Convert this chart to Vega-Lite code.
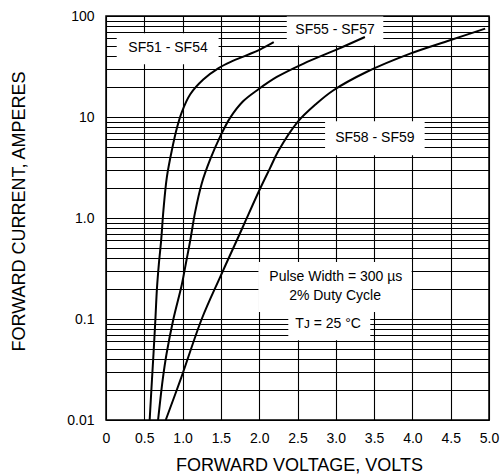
{
  "$schema": "https://vega.github.io/schema/vega-lite/v6.json",
  "autosize": {"type": "none"},
  "width": 383,
  "height": 404,
  "padding": {"left": 106, "top": 16, "right": 12, "bottom": 56},
  "background": "white",
  "config": {
    "font": "Liberation Sans",
    "view": {"stroke": "black", "strokeWidth": 1.5},
    "axis": {
      "grid": true,
      "gridColor": "black",
      "gridOpacity": 1,
      "gridWidth": 1.1,
      "ticks": false,
      "domain": false,
      "labelFontSize": 14,
      "labelColor": "black",
      "labelFont": "Liberation Sans",
      "titleFont": "Liberation Sans",
      "titleFontSize": 18,
      "titleFontWeight": "normal",
      "titleColor": "black",
      "labelOverlap": false,
      "labelBound": false,
      "labelFlush": false
    },
    "axisX": {
      "title": "FORWARD VOLTAGE, VOLTS",
      "values": [0, 0.5, 1, 1.5, 2, 2.5, 3, 3.5, 4, 4.5, 5],
      "labelExpr": "datum.value == 0 ? '0' : format(datum.value, '.1f')",
      "labelPadding": 11,
      "titleX": 193,
      "titleY": 50,
      "titleBaseline": "alphabetic",
      "titleAlign": "center"
    },
    "axisY": {
      "values": [0.01, 0.02, 0.03, 0.04, 0.05, 0.06, 0.07, 0.08, 0.09, 0.1, 0.2, 0.3, 0.4, 0.5, 0.6, 0.7, 0.8, 0.9, 1, 2, 3, 4, 5, 6, 7, 8, 9, 10, 20, 30, 40, 50, 60, 70, 80, 90, 100],
      "labelExpr": "datum.value == 100 ? '100' : datum.value == 10 ? '10' : datum.value == 1 ? '1.0' : datum.value == 0.1 ? '0.1' : datum.value == 0.01 ? '0.01' : ''",
      "labelPadding": 12,
      "titleX": -87,
      "titleY": 195,
      "titleAngle": -90,
      "titleBaseline": "middle",
      "titleAlign": "center"
    }
  },
  "datasets": {
    "curves": [
      {"series": "SF51 - SF54", "V": 0.57, "I": 0.01},
      {"series": "SF51 - SF54", "V": 0.6, "I": 0.025},
      {"series": "SF51 - SF54", "V": 0.62, "I": 0.045},
      {"series": "SF51 - SF54", "V": 0.645, "I": 0.1},
      {"series": "SF51 - SF54", "V": 0.665, "I": 0.2},
      {"series": "SF51 - SF54", "V": 0.69, "I": 0.35},
      {"series": "SF51 - SF54", "V": 0.72, "I": 0.6},
      {"series": "SF51 - SF54", "V": 0.75, "I": 1.2},
      {"series": "SF51 - SF54", "V": 0.795, "I": 2.55},
      {"series": "SF51 - SF54", "V": 0.86, "I": 4.7},
      {"series": "SF51 - SF54", "V": 0.93, "I": 8.0},
      {"series": "SF51 - SF54", "V": 0.99, "I": 11.2},
      {"series": "SF51 - SF54", "V": 1.1, "I": 16.8},
      {"series": "SF51 - SF54", "V": 1.27, "I": 23.5},
      {"series": "SF51 - SF54", "V": 1.47, "I": 30.5},
      {"series": "SF51 - SF54", "V": 1.64, "I": 35.5},
      {"series": "SF51 - SF54", "V": 1.84, "I": 41},
      {"series": "SF51 - SF54", "V": 2.01, "I": 46.5},
      {"series": "SF51 - SF54", "V": 2.19, "I": 55},
      {"series": "SF55 - SF57", "V": 0.68, "I": 0.01},
      {"series": "SF55 - SF57", "V": 0.74, "I": 0.025},
      {"series": "SF55 - SF57", "V": 0.79, "I": 0.045},
      {"series": "SF55 - SF57", "V": 0.88, "I": 0.1},
      {"series": "SF55 - SF57", "V": 0.99, "I": 0.22},
      {"series": "SF55 - SF57", "V": 1.05, "I": 0.38},
      {"series": "SF55 - SF57", "V": 1.1, "I": 0.6},
      {"series": "SF55 - SF57", "V": 1.164, "I": 1.15},
      {"series": "SF55 - SF57", "V": 1.25, "I": 2.2},
      {"series": "SF55 - SF57", "V": 1.36, "I": 3.8},
      {"series": "SF55 - SF57", "V": 1.49, "I": 6.4},
      {"series": "SF55 - SF57", "V": 1.62, "I": 9.8},
      {"series": "SF55 - SF57", "V": 1.79, "I": 14.3},
      {"series": "SF55 - SF57", "V": 1.99, "I": 18.8},
      {"series": "SF55 - SF57", "V": 2.23, "I": 24.9},
      {"series": "SF55 - SF57", "V": 2.58, "I": 33.8},
      {"series": "SF55 - SF57", "V": 3.01, "I": 46.5},
      {"series": "SF55 - SF57", "V": 3.38, "I": 62},
      {"series": "SF58 - SF59", "V": 0.78, "I": 0.01},
      {"series": "SF58 - SF59", "V": 0.98, "I": 0.026},
      {"series": "SF58 - SF59", "V": 1.25, "I": 0.1},
      {"series": "SF58 - SF59", "V": 1.49, "I": 0.26},
      {"series": "SF58 - SF59", "V": 1.72, "I": 0.63},
      {"series": "SF58 - SF59", "V": 1.82, "I": 0.93},
      {"series": "SF58 - SF59", "V": 1.99, "I": 1.8},
      {"series": "SF58 - SF59", "V": 2.14, "I": 3.1},
      {"series": "SF58 - SF59", "V": 2.25, "I": 4.6},
      {"series": "SF58 - SF59", "V": 2.5, "I": 8.9},
      {"series": "SF58 - SF59", "V": 2.75, "I": 13.6},
      {"series": "SF58 - SF59", "V": 2.97, "I": 18.4},
      {"series": "SF58 - SF59", "V": 3.4, "I": 27.9},
      {"series": "SF58 - SF59", "V": 3.97, "I": 42.4},
      {"series": "SF58 - SF59", "V": 4.49, "I": 57.5},
      {"series": "SF58 - SF59", "V": 4.95, "I": 75}
    ],
    "boxes": [
      {"x1": 0.14, "x2": 1.47, "y1": 33.3, "y2": 67.4},
      {"x1": 2.36, "x2": 3.62, "y1": 51, "y2": 99},
      {"x1": 2.86, "x2": 4.16, "y1": 4.18, "y2": 9.06},
      {"x1": 1.99, "x2": 3.99, "y1": 0.117, "y2": 0.366},
      {"x1": 2.38, "x2": 3.45, "y1": 0.0615, "y2": 0.117}
    ],
    "labels": [
      {"tx": 0.81, "ty": 47.9, "label": "SF51 - SF54"},
      {"tx": 2.99, "ty": 72, "label": "SF55 - SF57"},
      {"tx": 3.51, "ty": 6.15, "label": "SF58 - SF59"},
      {"tx": 3.0, "ty": 0.261, "label": "Pulse Width = 300 µs"},
      {"tx": 2.99, "ty": 0.168, "label": "2% Duty Cycle"},
      {"tx": 2.9, "ty": 0.09, "label": "Tᴊ = 25 °C"}
    ]
  },
  "layer": [
    {
      "data": {"name": "boxes"},
      "mark": {"type": "rect", "color": "white", "opacity": 1},
      "encoding": {
        "x": {
          "field": "x1", "type": "quantitative",
          "scale": {"domain": [0, 5], "nice": false, "zero": false},
          "axis": {"title": "FORWARD VOLTAGE, VOLTS"}
        },
        "x2": {"field": "x2"},
        "y": {
          "field": "y1", "type": "quantitative",
          "scale": {"type": "log", "domain": [0.01, 100], "nice": false},
          "axis": {"title": "FORWARD CURRENT, AMPERES"}
        },
        "y2": {"field": "y2"}
      }
    },
    {
      "data": {"name": "curves"},
      "mark": {"type": "line", "color": "black", "strokeWidth": 2, "interpolate": "catmull-rom"},
      "encoding": {
        "x": {"field": "V", "type": "quantitative", "axis": {"title": "FORWARD VOLTAGE, VOLTS"}},
        "y": {"field": "I", "type": "quantitative", "axis": {"title": "FORWARD CURRENT, AMPERES"}},
        "detail": {"field": "series"}
      }
    },
    {
      "data": {"name": "labels"},
      "mark": {"type": "text", "color": "black", "fontSize": 14, "align": "center", "baseline": "middle"},
      "encoding": {
        "x": {"field": "tx", "type": "quantitative", "axis": {"title": "FORWARD VOLTAGE, VOLTS"}},
        "y": {"field": "ty", "type": "quantitative", "axis": {"title": "FORWARD CURRENT, AMPERES"}},
        "text": {"field": "label"}
      }
    }
  ]
}
